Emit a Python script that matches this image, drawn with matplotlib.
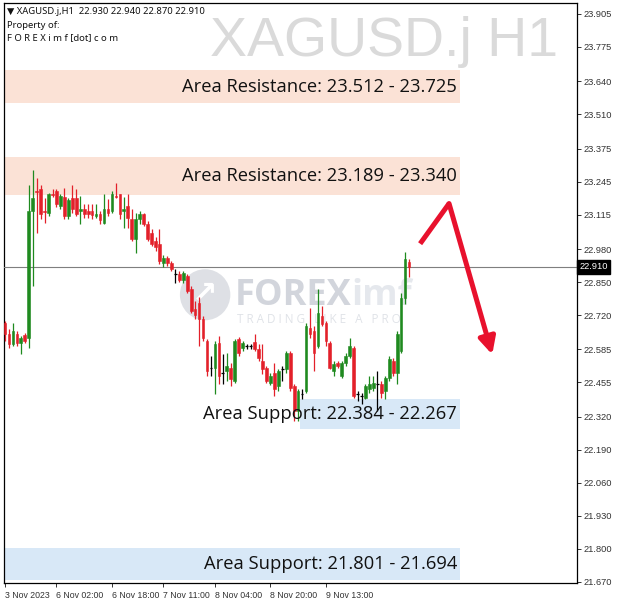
import numpy as np
import matplotlib
matplotlib.use("Agg")
import matplotlib.pyplot as plt
from matplotlib.patches import Rectangle, Circle
from matplotlib.transforms import blended_transform_factory

# ─── XAGUSD.j H1 bars ───────────────────────────────────────
OPENS = [22.689, 22.645, 22.606, 22.645, 22.610, 22.641, 22.630, 23.131, 23.210, 23.218,
         23.131, 23.123, 23.198, 23.210, 23.151, 23.183, 23.111, 23.179, 23.179, 23.131,
         23.139, 23.131, 23.131, 23.108, 23.119, 23.084, 23.139, 23.131, 23.190, 23.198,
         23.131, 23.151, 23.100, 23.021, 23.100, 23.119, 23.080, 23.044, 23.013, 23.001,
         22.926, 22.946, 22.926, 22.882, 22.882, 22.858, 22.874, 22.823, 22.744, 22.768,
         22.705, 22.618, 22.511, 22.511, 22.610, 22.491, 22.499, 22.511, 22.460, 22.626,
         22.590, 22.598, 22.598, 22.614, 22.586, 22.539, 22.511, 22.452, 22.491, 22.440,
         22.507, 22.507, 22.570, 22.440, 22.341, 22.408, 22.420, 22.669, 22.657, 22.598,
         22.716, 22.689, 22.610, 22.499, 22.531, 22.479, 22.531, 22.558, 22.590, 22.408,
         22.400, 22.393, 22.428, 22.432, 22.448, 22.448, 22.420, 22.472, 22.539, 22.491,
         22.578, 22.787, 22.930]
HIGHS = [22.697, 22.665, 22.689, 22.657, 22.637, 22.649, 23.230, 23.289, 23.258, 23.230,
         23.179, 23.202, 23.218, 23.218, 23.198, 23.222, 23.179, 23.230, 23.218, 23.190,
         23.159, 23.159, 23.159, 23.159, 23.131, 23.198, 23.175, 23.210, 23.238, 23.198,
         23.183, 23.198, 23.139, 23.123, 23.131, 23.123, 23.092, 23.060, 23.029, 23.060,
         22.957, 22.953, 22.934, 22.902, 22.894, 22.894, 22.882, 22.835, 22.776, 22.791,
         22.716, 22.626, 22.558, 22.618, 22.637, 22.567, 22.570, 22.531, 22.626, 22.633,
         22.618, 22.606, 22.606, 22.645, 22.606, 22.606, 22.519, 22.491, 22.531, 22.507,
         22.519, 22.578, 22.578, 22.448, 22.428, 22.428, 22.689, 22.748, 22.677, 22.823,
         22.756, 22.697, 22.618, 22.539, 22.539, 22.539, 22.570, 22.630, 22.598, 22.420,
         22.412, 22.448, 22.479, 22.479, 22.499, 22.460, 22.479, 22.558, 22.551, 22.657,
         22.807, 22.969, 22.940]
LOWS = [22.618, 22.590, 22.598, 22.598, 22.567, 22.610, 22.590, 22.835, 23.044, 23.100,
        23.084, 23.111, 23.183, 23.147, 23.139, 23.100, 23.100, 23.123, 23.111, 23.080,
        23.104, 23.104, 23.100, 23.104, 23.080, 23.080, 23.111, 23.123, 23.179, 23.100,
        23.064, 23.064, 23.013, 22.965, 23.080, 23.072, 23.013, 22.993, 22.973, 22.922,
        22.910, 22.914, 22.894, 22.847, 22.851, 22.847, 22.807, 22.728, 22.705, 22.598,
        22.618, 22.479, 22.479, 22.408, 22.448, 22.448, 22.460, 22.440, 22.452, 22.558,
        22.578, 22.586, 22.586, 22.578, 22.539, 22.487, 22.452, 22.444, 22.400, 22.420,
        22.460, 22.491, 22.420, 22.302, 22.302, 22.389, 22.412, 22.630, 22.499, 22.590,
        22.677, 22.598, 22.507, 22.479, 22.511, 22.472, 22.519, 22.551, 22.393, 22.381,
        22.369, 22.389, 22.412, 22.420, 22.341, 22.393, 22.389, 22.460, 22.479, 22.448,
        22.570, 22.764, 22.870]
CLOSES = [22.645, 22.606, 22.657, 22.610, 22.630, 22.618, 23.131, 23.179, 23.206, 23.119,
          23.127, 23.198, 23.194, 23.159, 23.190, 23.111, 23.171, 23.139, 23.119, 23.139,
          23.119, 23.119, 23.115, 23.119, 23.096, 23.139, 23.123, 23.198, 23.186, 23.119,
          23.139, 23.104, 23.021, 23.100, 23.119, 23.080, 23.021, 23.001, 22.989, 22.934,
          22.946, 22.926, 22.902, 22.882, 22.858, 22.886, 22.815, 22.736, 22.720, 22.705,
          22.630, 22.499, 22.511, 22.606, 22.479, 22.491, 22.519, 22.468, 22.618, 22.570,
          22.610, 22.598, 22.598, 22.586, 22.551, 22.507, 22.460, 22.479, 22.428, 22.499,
          22.507, 22.570, 22.432, 22.341, 22.420, 22.408, 22.677, 22.645, 22.570, 22.728,
          22.685, 22.618, 22.511, 22.527, 22.519, 22.531, 22.558, 22.598, 22.400, 22.408,
          22.400, 22.440, 22.448, 22.452, 22.448, 22.412, 22.472, 22.547, 22.491, 22.645,
          22.787, 22.942, 22.910]

TIME_LABELS = ["3 Nov 2023", "6 Nov 02:00", "6 Nov 18:00", "7 Nov 11:00",
               "8 Nov 04:00", "8 Nov 20:00", "9 Nov 13:00"]
TIME_LABEL_BARS = [0, 13, 27, 40, 53, 67, 81]

PRICE_TICKS = [23.905, 23.775, 23.640, 23.510, 23.375, 23.245, 23.115, 22.980, 22.850,
               22.720, 22.585, 22.455, 22.320, 22.190, 22.060, 21.930, 21.800, 21.670]
LAST_PRICE = 22.910

# zones (drawn low / high, label text)
ZONE_LABELS = ["Area Resistance: 23.512 - 23.725", "Area Resistance: 23.189 - 23.340",
               "Area Support: 22.384 - 22.267", "Area Support: 21.801 - 21.694"]
ZONE_LOW = [23.554, 23.194, 22.270, 21.678]
ZONE_HIGH = [23.684, 23.341, 22.389, 21.804]
ZONE_KIND = ["res", "res", "sup", "sup"]
ZONE_FIRST_BAR = [None, None, 74.5, None]
ZONE_LAST_BAR = 114.9

# forecast arrow (bar, price)
ARROW_BARS = [104.8, 112.1, 123.0]
ARROW_PRICES = [23.001, 23.159, 22.565]

HEADER = "\u25BC XAGUSD.j,H1  22.930 22.940 22.870 22.910"

# ─── Colours / fonts ───────────────────────────────────────
BULL = "#1f8a1f"
BEAR = "#e3202a"
DOJI = "#000000"
RES_FILL = "#fbe2d6"
SUP_FILL = "#d8e8f7"
ARROW_RED = "#e8112d"
SMALL_FONT = ["Liberation Sans", "DejaVu Sans"]

X_LEFT, X_RIGHT = -0.25, 144.4
Y_LOW, Y_HIGH = 21.666, 23.948

fig = plt.figure(figsize=(6.2, 6.06), dpi=100)
fig.patch.set_facecolor("white")
ax = fig.add_axes([4 / 620, 23 / 606, 573 / 620, 580 / 606])
ax.set_xlim(X_LEFT, X_RIGHT)
ax.set_ylim(Y_LOW, Y_HIGH)

# zones
for lab, lo, hi, kind, first in zip(ZONE_LABELS, ZONE_LOW, ZONE_HIGH, ZONE_KIND, ZONE_FIRST_BAR):
    x0 = X_LEFT + 0.3 if first is None else first
    ax.add_patch(Rectangle((x0, lo), ZONE_LAST_BAR - x0, hi - lo,
                           facecolor=RES_FILL if kind == "res" else SUP_FILL,
                           edgecolor="none", zorder=1))
    ax.text(ZONE_LAST_BAR - 0.8, (lo + hi) / 2, lab, ha="right", va="center",
            fontsize=13.2, family="Open Sans", color="#111111", zorder=6)

# logo watermark
ax.add_patch(Circle((0.351, 0.497), 0.044, transform=ax.transAxes,
                    facecolor="#d6d9df", edgecolor="none", alpha=0.8, zorder=2))
ax.text(0.351, 0.497, "\u2197", transform=ax.transAxes, ha="center", va="center",
        fontsize=22, color="white", fontweight="bold", zorder=2)
ax.text(0.403, 0.495, "FOREX", transform=ax.transAxes, ha="left", va="center",
        fontsize=26, fontweight="bold", family="Open Sans", color="#d2d5dc", zorder=2)
ax.text(0.607, 0.495, "imf", transform=ax.transAxes, ha="left", va="center",
        fontsize=26, fontweight="bold", family="Open Sans", color="#e5e8ed", zorder=2)
ax.text(0.406, 0.455, "T R A D I N G   L I K E   A   P R O", transform=ax.transAxes,
        ha="left", va="center", fontsize=8.5, family="Open Sans", color="#e0e3e8", zorder=2)

# symbol watermark
ax.text(0.663, 0.933, "XAGUSD.j H1", transform=ax.transAxes, ha="center", va="center",
        fontsize=40, family="Liberation Sans", color="#dadada", zorder=2)

# current price line
ax.axhline(LAST_PRICE, color="#7f7f7f", lw=0.8, zorder=3)

# candles
for i, (o, h, l, c) in enumerate(zip(OPENS, HIGHS, LOWS, CLOSES)):
    if abs(c - o) < 0.002:
        col = DOJI
    elif c > o:
        col = BULL
    else:
        col = BEAR
    ax.vlines(i, l, h, color=col, lw=0.9, zorder=4)
    lo, hi = min(o, c), max(o, c)
    if hi - lo < 0.002:
        ax.hlines(o, i - 0.35, i + 0.35, color=col, lw=0.9, zorder=4)
    else:
        ax.add_patch(Rectangle((i - 0.34, lo), 0.68, hi - lo, facecolor=col,
                               edgecolor=col, lw=0.4, zorder=4))

# forecast arrow
ax.plot(ARROW_BARS[:2], ARROW_PRICES[:2], color=ARROW_RED, lw=3.6,
        solid_capstyle="butt", solid_joinstyle="miter", zorder=7)
ax.annotate("", xy=(ARROW_BARS[2], ARROW_PRICES[2]), xytext=(ARROW_BARS[1], ARROW_PRICES[1]),
            arrowprops=dict(arrowstyle="-|>,head_length=1.0,head_width=0.5",
                            color=ARROW_RED, lw=3.6, shrinkA=0, shrinkB=0), zorder=7)

# header text
ax.text(0.006, 0.985, HEADER, transform=ax.transAxes, ha="left", va="center",
        fontsize=6.8, family=["Noto Sans", "DejaVu Sans"], color="#111111", zorder=8)
ax.text(0.006, 0.962, "Property of:", transform=ax.transAxes, ha="left", va="center",
        fontsize=6.8, family="Noto Sans", color="#111111", zorder=8)
ax.text(0.006, 0.94, "F O R E X i m f [dot] c o m", transform=ax.transAxes, ha="left",
        va="center", fontsize=6.8, family="Noto Sans", color="#111111", zorder=8)

# axes styling
for side in ["left", "right", "top", "bottom"]:
    ax.spines[side].set_color("#000000")
    ax.spines[side].set_linewidth(0.9)
ax.yaxis.tick_right()
ax.set_yticks(PRICE_TICKS)
ax.set_yticklabels([f"{p:.3f}" for p in PRICE_TICKS], family=SMALL_FONT)
ax.tick_params(axis="y", direction="out", length=3, width=0.7, pad=2,
               labelsize=6.7, labelcolor="#333333", color="#333333")
ax.set_xticks(TIME_LABEL_BARS)
ax.set_xticklabels(TIME_LABELS, ha="left", family=SMALL_FONT)
ax.tick_params(axis="x", direction="out", length=3, width=0.7, pad=3,
               labelsize=6.3, labelcolor="#333333", color="#333333")

# last price tag
trans = blended_transform_factory(ax.transAxes, ax.transData)
ax.text(1.004, LAST_PRICE, f"{LAST_PRICE:.3f}", transform=trans, ha="left", va="center",
        fontsize=6.7, family=SMALL_FONT, color="white",
        bbox=dict(boxstyle="square,pad=0.25", facecolor="black", edgecolor="black"),
        zorder=9, clip_on=False)

fig.savefig("out.png", dpi=100)
